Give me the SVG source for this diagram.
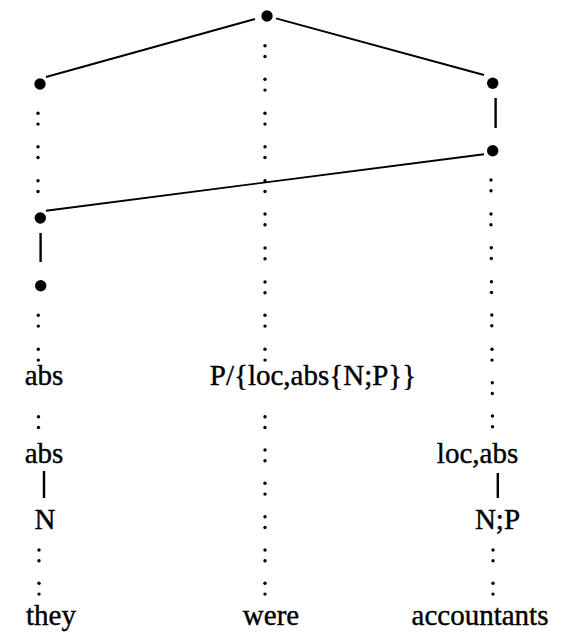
<svg xmlns="http://www.w3.org/2000/svg" xmlns:xlink="http://www.w3.org/1999/xlink" width="567" height="635" viewBox="0 0 567 635">
<style>
.lbl{font-family:"Liberation Serif","Times New Roman",serif;font-size:29px;fill:#000;stroke:#000;stroke-width:0.4;text-anchor:middle}
.edge{stroke:#000;stroke-width:1.9;fill:none}
.bar{stroke:#000;stroke-width:2.4;fill:none}
.node{fill:#000}
.dot{fill:#000}
</style>
<defs>
<g id="colon"><circle class="dot" cx="0" cy="0" r="1.7"/><circle class="dot" cx="0" cy="10.8" r="1.7"/></g>
</defs>
<rect width="567" height="635" fill="#fff"/>
<g id="connectors">
<line class="edge" x1="255" y1="19" x2="46" y2="77"/>
<line class="edge" x1="276" y1="18.3" x2="484" y2="75"/>
<line class="edge" x1="484" y1="154.3" x2="46" y2="210.7"/>
<line class="bar" x1="40.6" y1="233" x2="40.6" y2="262"/>
<line class="bar" x1="495.6" y1="98" x2="495.6" y2="128"/>
<line class="bar" x1="44" y1="471" x2="44" y2="498"/>
<line class="bar" x1="497.8" y1="473" x2="497.8" y2="498"/>
<g id="dots-left">
<use xlink:href="#colon" x="38" y="113.3"/><use xlink:href="#colon" x="38" y="146.7"/><use xlink:href="#colon" x="38" y="180.7"/>
<use xlink:href="#colon" x="38.3" y="315.3"/><use xlink:href="#colon" x="38.3" y="349.3"/><use xlink:href="#colon" x="38.5" y="416.7"/>
<use xlink:href="#colon" x="39" y="550"/><use xlink:href="#colon" x="39" y="583.3"/>
</g>
<g id="dots-middle">
<use xlink:href="#colon" x="265" y="45.7"/><use xlink:href="#colon" x="265" y="79.3"/><use xlink:href="#colon" x="265" y="113.3"/>
<use xlink:href="#colon" x="265" y="146.7"/><use xlink:href="#colon" x="265" y="180.7"/><use xlink:href="#colon" x="265" y="214"/>
<use xlink:href="#colon" x="265" y="248"/><use xlink:href="#colon" x="265" y="282"/><use xlink:href="#colon" x="265" y="315.3"/>
<use xlink:href="#colon" x="265" y="349.3"/><use xlink:href="#colon" x="265" y="416.7"/><use xlink:href="#colon" x="265" y="450"/>
<use xlink:href="#colon" x="265" y="483.3"/><use xlink:href="#colon" x="265" y="516.7"/><use xlink:href="#colon" x="265" y="550"/>
<use xlink:href="#colon" x="265" y="583.3"/>
</g>
<g id="dots-right">
<use xlink:href="#colon" x="491" y="180"/><use xlink:href="#colon" x="491" y="214"/><use xlink:href="#colon" x="491.3" y="247.7"/>
<use xlink:href="#colon" x="491.5" y="281.7"/><use xlink:href="#colon" x="491.8" y="315"/><use xlink:href="#colon" x="492" y="349.3"/>
<use xlink:href="#colon" x="492.3" y="382.7"/><use xlink:href="#colon" x="492.5" y="416"/><use xlink:href="#colon" x="493" y="550"/>
<use xlink:href="#colon" x="493" y="583.3"/>
</g>
</g>
<g id="n-top"><circle class="node" cx="267" cy="16" r="5.7"/></g>
<g id="n-left1"><circle class="node" cx="40" cy="84" r="5.7"/></g>
<g id="n-left2"><circle class="node" cx="40.3" cy="218" r="5.7"/></g>
<g id="n-left3"><circle class="node" cx="40.7" cy="285.7" r="5.7"/></g>
<g id="n-right1"><circle class="node" cx="492.7" cy="83.3" r="5.7"/></g>
<g id="n-right2"><circle class="node" cx="492.7" cy="150.7" r="5.7"/></g>
<g id="t-abs1"><text class="lbl" x="44" y="384.5">abs</text></g>
<g id="t-abs2"><text class="lbl" x="44" y="463">abs</text></g>
<g id="t-N"><text class="lbl" x="45" y="529">N</text></g>
<g id="t-they"><text class="lbl" x="51" y="625">they</text></g>
<g id="t-P"><text class="lbl" x="313" y="384.5">P/{loc,abs{N;P}}</text></g>
<g id="t-were"><text class="lbl" x="271" y="625">were</text></g>
<g id="t-locabs"><text class="lbl" x="477.5" y="463">loc,abs</text></g>
<g id="t-NP"><text class="lbl" x="497.5" y="529">N;P</text></g>
<g id="t-accountants"><text class="lbl" x="480" y="625">accountants</text></g>
</svg>
